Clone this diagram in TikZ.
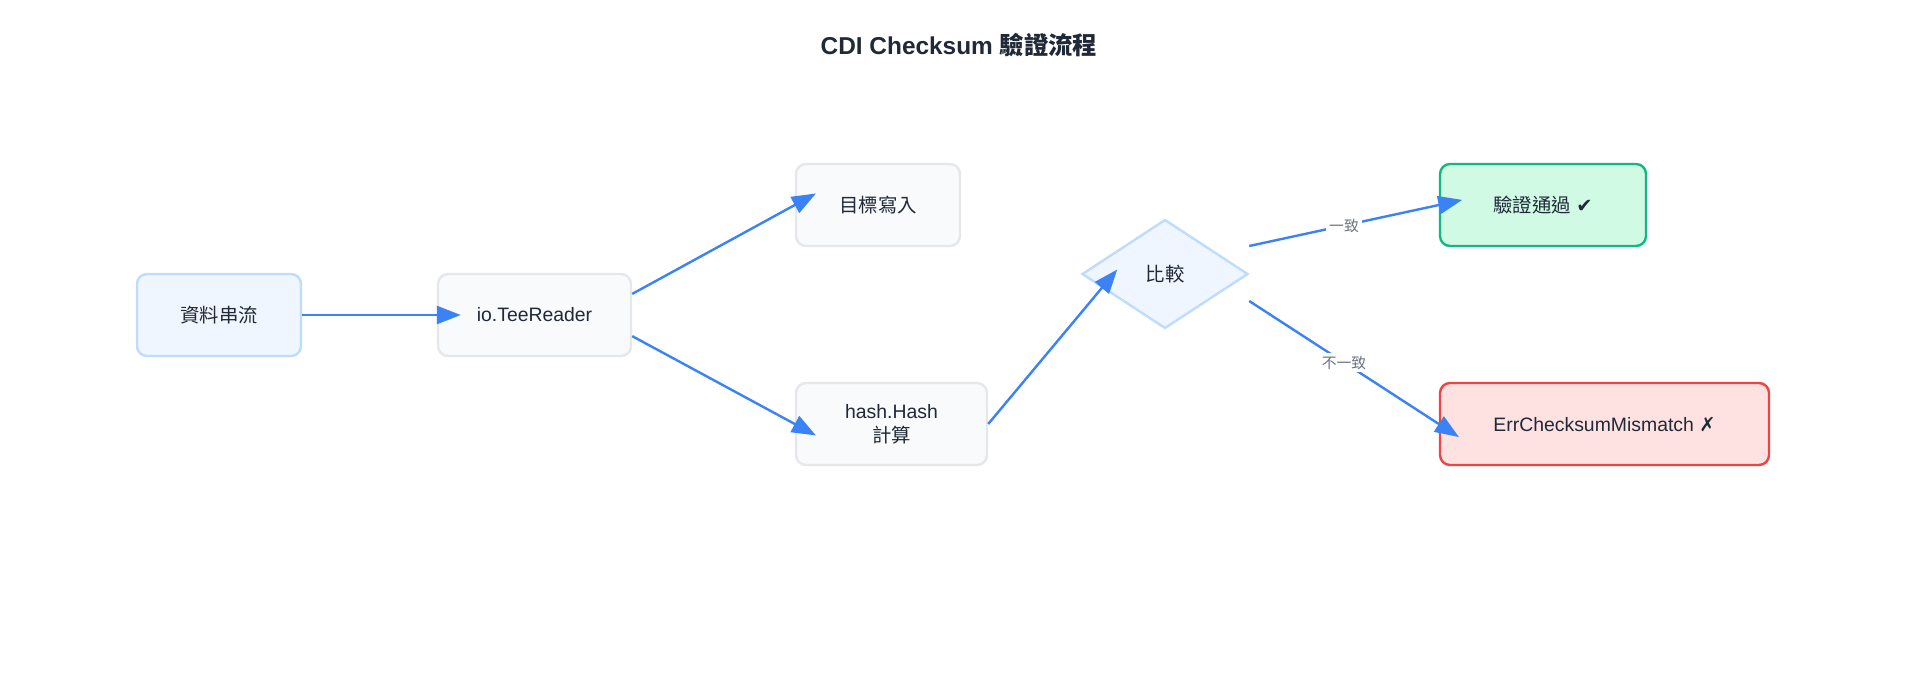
\documentclass[tikz,border=0pt]{standalone}
\usepackage{fontspec}
\setmainfont{Liberation Sans}
\newfontfamily\cjk{Noto Sans CJK TC}
\newfontfamily\symb{DejaVu Sans}
\usepackage{tikz}
\usetikzlibrary{arrows.meta,calc,shapes.geometric}
\definecolor{flowblue}{HTML}{3B82F6}
\definecolor{inkgray}{HTML}{1F2937}
\definecolor{labelgray}{HTML}{6B7280}
\definecolor{srcfill}{HTML}{EFF6FF}
\definecolor{srcline}{HTML}{BFDBFE}
\definecolor{stepfill}{HTML}{F9FAFB}
\definecolor{stepline}{HTML}{E5E7EB}
\definecolor{okfill}{HTML}{D1FAE5}
\definecolor{okline}{HTML}{10B981}
\definecolor{errfill}{HTML}{FEE2E2}
\definecolor{errline}{HTML}{EF4444}

\begin{document}
\begin{tikzpicture}[x=0.5pt,y=-0.5pt,
  box/.style={draw,rounded corners=5pt,line width=1.2pt,minimum height=41pt,inner sep=0pt,
    text=inkgray,align=center,font=\fontsize{9.7}{12}\selectfont},
  srcbox/.style={box,fill=srcfill,draw=srcline},
  stepbox/.style={box,fill=stepfill,draw=stepline},
  okbox/.style={box,fill=okfill,draw=okline},
  errbox/.style={box,fill=errfill,draw=errline},
  flow/.style={flowblue,line width=1.2pt,-{Triangle[length=12pt,width=9pt]},shorten >=-12pt},
  lbl/.style={midway,fill=white,inner sep=1.5pt,text=labelgray,font=\fontsize{7.4}{8}\selectfont\cjk}]
\useasboundingbox (0,0) rectangle (1920,686);
\node[text=inkgray,font=\fontsize{12.2}{14}\selectfont\bfseries] (title) at (959,45) {CDI Checksum {\cjk 驗證流程}};
% nodes
\node[srcbox,minimum width=82pt] (src) at (219,315) {{\cjk 資料串流}};
\node[stepbox,minimum width=96.5pt] (tee) at (534.5,315) {io.TeeReader};
\node[stepbox,minimum width=82pt] (sink) at (878,205) {{\cjk 目標寫入}};
\node[stepbox,minimum width=95.5pt] (hash) at (891.5,424) {hash.Hash\\{\cjk 計算}};
\node[diamond,draw=srcline,fill=srcfill,line width=1.2pt,minimum width=83pt,minimum height=54.5pt,
  inner sep=0pt,text=inkgray,font=\fontsize{9.7}{12}\selectfont\cjk] (cmp) at (1165,274) {比較};
\node[okbox,minimum width=103pt] (ok) at (1543,205) {{\cjk 驗證通過} {\symb ✔}};
\node[errbox,minimum width=164.5pt] (err) at (1604.5,424) {ErrChecksumMismatch {\symb ✗}};
% connectors
\draw[flow] (src.east) -- (tee.west);
\draw[flow] ($(tee.east)!0.5!(tee.north east)$) -- (sink.west);
\draw[flow] ($(tee.east)!0.5!(tee.south east)$) -- (hash.west);
\draw[flow] (hash.east) -- ($(cmp.west)!0.25!(cmp.south)$);
\draw[flow] ([yshift=14pt]cmp.east) -- (ok.west) node[lbl]{一致};
\draw[flow] ([yshift=-13.5pt]cmp.east) -- (err.west) node[lbl]{不一致};
\end{tikzpicture}
\end{document}
